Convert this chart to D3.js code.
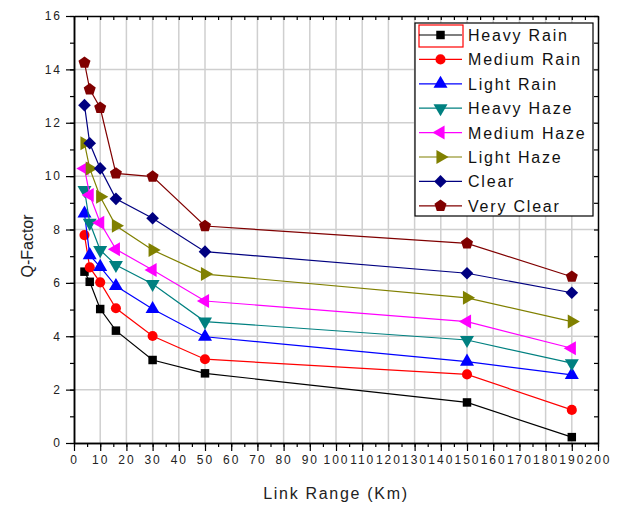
<!DOCTYPE html>
<html>
<head>
<meta charset="utf-8">
<script src="https://cdn.jsdelivr.net/npm/d3@7"></script>
<style>
  body { margin: 0; background: #fff; }
  text { font-family: "Liberation Sans", Arial, sans-serif; }
</style>
</head>
<body>
<svg width="625" height="508"></svg>
<script>
// link range values (km)
const ranges = [4, 6, 10, 16, 30, 50, 150, 190];

const heavy_rain   = [6.42, 6.04, 5.02, 4.21, 3.11, 2.61, 1.52, 0.22];
const medium_rain  = [7.79, 6.58, 6.02, 5.05, 4.01, 3.14, 2.57, 1.24];
const light_rain   = [8.6, 7.04, 6.6, 5.88, 5.02, 3.98, 3.05, 2.55];
const heavy_haze   = [9.48, 8.25, 7.23, 6.67, 5.96, 4.55, 3.86, 2.99];
const medium_haze  = [10.29, 9.29, 8.25, 7.26, 6.48, 5.32, 4.55, 3.55];
const light_haze   = [11.23, 10.29, 9.23, 8.14, 7.23, 6.33, 5.44, 4.55];
const clear        = [12.66, 11.23, 10.29, 9.15, 8.42, 7.17, 6.36, 5.63];
const very_clear   = [14.25, 13.25, 12.56, 10.1, 9.98, 8.13, 7.48, 6.23];

const series_names = ["Heavy Rain", "Medium Rain", "Light Rain", "Heavy Haze",
                      "Medium Haze", "Light Haze", "Clear", "Very Clear"];
const series_values = [heavy_rain, medium_rain, light_rain, heavy_haze,
                       medium_haze, light_haze, clear, very_clear];
const colors = ["#000000", "#ff0000", "#0000ff", "#008080",
                "#ff00ff", "#808000", "#000080", "#800000"];

const x_ticks = d3.range(0, 201, 10);
const y_ticks = d3.range(0, 17, 2);

const svg = d3.select("svg");
const margin = { top: 16, right: 27, bottom: 65, left: 74 };
const inner_width = 625 - margin.left - margin.right;
const inner_height = 508 - margin.top - margin.bottom;

const g = svg.append("g")
    .attr("transform", `translate(${margin.left}, ${margin.top})`);

const x_scale = d3.scaleLinear().domain([0, 200]).range([0, inner_width]);
const y_scale = d3.scaleLinear().domain([0, 16]).range([inner_height, 0]);

// grid
g.append("g").selectAll("line").data(x_ticks.slice(1, -1)).enter().append("line")
    .attr("x1", d => x_scale(d)).attr("x2", d => x_scale(d))
    .attr("y1", 0).attr("y2", inner_height)
    .style("stroke", "#cfcfcf").style("stroke-width", 1.5);
g.append("g").selectAll("line").data(y_ticks.slice(1, -1)).enter().append("line")
    .attr("y1", d => y_scale(d)).attr("y2", d => y_scale(d))
    .attr("x1", 0).attr("x2", inner_width)
    .style("stroke", "#cfcfcf").style("stroke-width", 1.5);

// axes
const styleAxis = (sel) => {
    sel.selectAll("text").style("font-size", "12px").style("letter-spacing", "2px")
        .style("fill", "#222");
};

const x_minor = d3.range(0, 201, 5);
const y_minor = d3.range(0, 17, 1);

g.append("g").attr("transform", `translate(0, ${inner_height})`)
    .call(d3.axisBottom(x_scale).tickValues(x_minor).tickSize(4).tickFormat("").tickSizeOuter(0));
g.append("g").attr("transform", `translate(0, ${inner_height})`)
    .call(d3.axisBottom(x_scale).tickValues(x_ticks).tickSize(8).tickSizeOuter(0).tickPadding(4))
    .call(styleAxis);
g.append("g")
    .call(d3.axisLeft(y_scale).tickValues(y_minor).tickSize(4).tickFormat("").tickSizeOuter(0));
g.append("g")
    .call(d3.axisLeft(y_scale).tickValues(y_ticks).tickSize(8).tickSizeOuter(0).tickPadding(4))
    .call(styleAxis);
g.append("g")
    .call(d3.axisTop(x_scale).tickValues(x_minor).tickSize(-4).tickFormat("").tickSizeOuter(0));
g.append("g").attr("transform", `translate(${inner_width}, 0)`)
    .call(d3.axisRight(y_scale).tickValues(y_minor).tickSize(-4).tickFormat("").tickSizeOuter(0));
g.selectAll(".domain").style("stroke", "#000").style("stroke-width", 1.5);
g.selectAll(".tick line").style("stroke", "#000").style("stroke-width", 1.2);

// axis titles
svg.append("text")
    .attr("x", margin.left + inner_width / 2).attr("y", 499)
    .attr("text-anchor", "middle").style("font-size", "16px")
    .style("letter-spacing", "1.7px").style("fill", "#222")
    .text("Link Range (Km)");
svg.append("text")
    .attr("transform", "translate(33, 246) rotate(-90)")
    .attr("text-anchor", "middle").style("font-size", "16px").style("fill", "#222")
    .text("Q-Factor");

// markers
const pentagon = {
    draw(ctx, size) {
        const r = Math.sqrt(size / 2.38);
        for (let i = 0; i < 5; i++) {
            const a = -Math.PI / 2 + i * 2 * Math.PI / 5;
            if (i === 0) ctx.moveTo(r * Math.cos(a), r * Math.sin(a));
            else ctx.lineTo(r * Math.cos(a), r * Math.sin(a));
        }
        ctx.closePath();
    }
};
const markers = [
    { type: d3.symbolSquare, size: 72, rot: 0 },
    { type: d3.symbolCircle, size: 80, rot: 0 },
    { type: d3.symbolTriangle, size: 85, rot: 0 },
    { type: d3.symbolTriangle, size: 85, rot: 180 },
    { type: d3.symbolTriangle, size: 85, rot: -90 },
    { type: d3.symbolTriangle, size: 85, rot: 90 },
    { type: d3.symbolSquare, size: 80, rot: 45 },
    { type: pentagon, size: 95, rot: 0 }
];

const line = d3.line().x(d => x_scale(d[0])).y(d => y_scale(d[1]));

series_values.forEach((vals, i) => {
    const pts = ranges.map((r, j) => [r, vals[j]]);
    g.append("path").datum(pts)
        .attr("d", line)
        .style("fill", "none").style("stroke", colors[i]).style("stroke-width", 1.2);
    g.append("g").selectAll("path").data(pts).enter().append("path")
        .attr("d", d3.symbol().type(markers[i].type).size(markers[i].size))
        .attr("transform", d => `translate(${x_scale(d[0])}, ${y_scale(d[1])}) rotate(${markers[i].rot})`)
        .style("fill", colors[i]);
});

// legend
const legend = svg.append("g").attr("transform", "translate(415, 23)");
legend.append("rect").attr("width", 178).attr("height", 193)
    .style("fill", "#fff").style("stroke", "#000").style("stroke-width", 1.2);
legend.append("rect").attr("x", 4).attr("y", 2).attr("width", 44).attr("height", 22)
    .style("fill", "none").style("stroke", "#ff0000").style("stroke-width", 1.2);
series_names.forEach((name, i) => {
    const ly = 12 + i * 24.4;
    const row = legend.append("g").attr("transform", `translate(0, ${ly})`);
    row.append("line").attr("x1", 4).attr("x2", 47)
        .style("stroke", colors[i]).style("stroke-width", 1.2);
    row.append("path")
        .attr("d", d3.symbol().type(markers[i].type).size(markers[i].size))
        .attr("transform", `translate(25.5, 0) rotate(${markers[i].rot})`)
        .style("fill", colors[i]);
    row.append("text").attr("x", 53).attr("y", 6)
        .style("font-size", "16px").style("letter-spacing", "1.8px").style("fill", "#111")
        .text(name);
});
</script>
</body>
</html>
